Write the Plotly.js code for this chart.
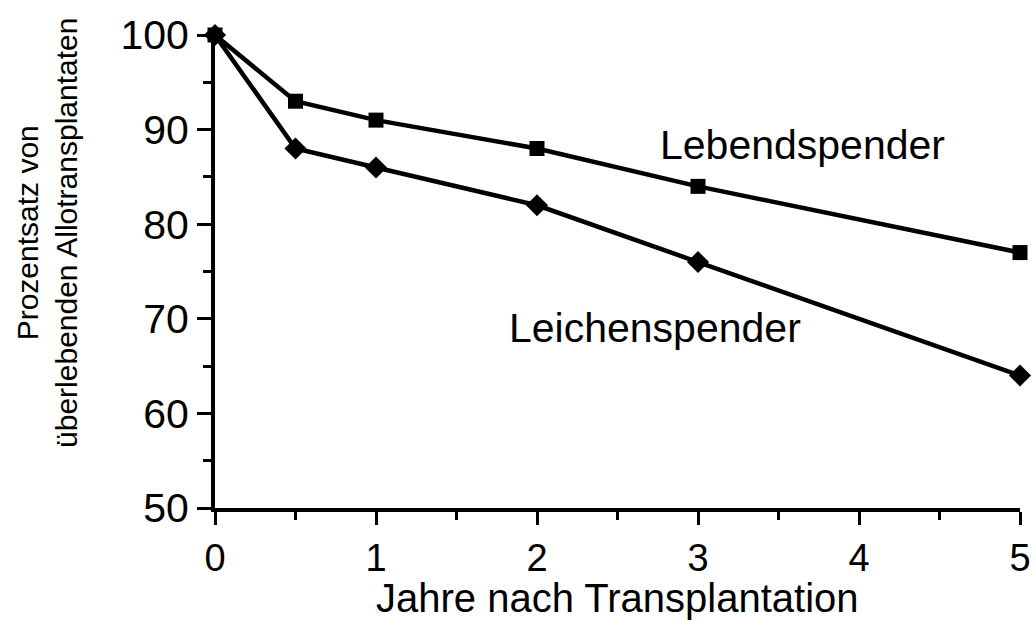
<!DOCTYPE html>
<html>
<head>
<meta charset="utf-8">
<script src="https://cdn.plot.ly/plotly-3.0.1.min.js"></script>
<style>html,body{margin:0;padding:0;background:#fff;}#chart{width:1036px;height:624px;}</style>
</head>
<body>
<div id="chart"></div>
<script>
const years = [0, 0.5, 1, 2, 3, 5];
const lebendspender = [100, 93, 91, 88, 84, 77];
const leichenspender = [100, 88, 86, 82, 76, 64];
const xTicks = [0, 1, 2, 3, 4, 5];
const yTicks = [50, 60, 70, 80, 90, 100];
const xTitle = 'Jahre nach Transplantation';
const yTitle = 'Prozentsatz von<br>überlebenden Allotransplantaten';

const FONT = 'Liberation Sans, Arial, Helvetica, sans-serif';

const traces = [
  {
    x: years, y: lebendspender, mode: 'lines+markers', name: 'Lebendspender',
    line: {color: '#000', width: 4.5},
    marker: {symbol: 'square', size: 15, color: '#000'},
    cliponaxis: false
  },
  {
    x: years, y: leichenspender, mode: 'lines+markers', name: 'Leichenspender',
    line: {color: '#000', width: 4.5},
    marker: {symbol: 'diamond', size: 17, color: '#000'},
    cliponaxis: false
  }
];

const layout = {
  width: 1036, height: 624,
  margin: {l: 215, r: 16, t: 35, b: 116},
  paper_bgcolor: '#fff', plot_bgcolor: '#fff',
  showlegend: false,
  font: {family: FONT, color: '#000'},
  xaxis: {
    range: [0, 5], tickvals: xTicks, ticktext: xTicks.map(String),
    showgrid: false, zeroline: false,
    showline: true, linecolor: '#000', linewidth: 4,
    ticks: 'outside', ticklen: 13, tickwidth: 3, tickcolor: '#000',
    minor: {dtick: 0.5, tick0: 0, ticks: 'outside', ticklen: 8, tickwidth: 3, tickcolor: '#000', showgrid: false},
    tickfont: {size: 38, family: FONT}
  },
  yaxis: {
    range: [50, 100], tickvals: yTicks, ticktext: yTicks.map(String),
    showgrid: false, zeroline: false,
    showline: true, linecolor: '#000', linewidth: 4,
    ticks: 'outside', ticklen: 14, tickwidth: 3, tickcolor: '#000',
    minor: {dtick: 5, tick0: 50, ticks: 'outside', ticklen: 8, tickwidth: 3, tickcolor: '#000', showgrid: false},
    tickfont: {size: 41, family: FONT}
  },
  annotations: [
    {x: 3.65, y: 88.4, xref: 'x', yref: 'y', text: 'Lebendspender', showarrow: false, font: {size: 41, family: FONT, color: '#000'}},
    {x: 2.73, y: 69, xref: 'x', yref: 'y', text: 'Leichenspender', showarrow: false, font: {size: 41, family: FONT, color: '#000'}},
    {x: 2.5, y: -0.19, xref: 'x', yref: 'paper', text: xTitle, showarrow: false, yanchor: 'middle', font: {size: 40, family: FONT, color: '#000'}},
    {x: -0.209, y: 0.581, xref: 'paper', yref: 'paper', text: yTitle, textangle: -90, showarrow: false, xanchor: 'center', yanchor: 'middle', font: {size: 30, family: FONT, color: '#000'}}
  ]
};

Plotly.newPlot('chart', traces, layout, {displayModeBar: false, staticPlot: true});
</script>
</body>
</html>
